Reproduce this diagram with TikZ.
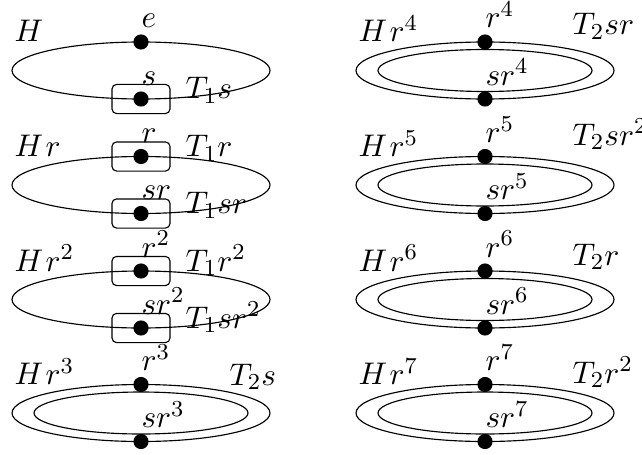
\documentclass[tikz,border=0pt]{standalone}
\begin{document}
\begin{tikzpicture}[x=0.35pt,y=0.35pt,line width=0.4pt,
  every node/.style={font=\fontsize{11}{13}\selectfont},
  dot/.style={circle,fill,inner sep=0pt,minimum size=5.3pt},
  cbox/.style={draw,rounded corners=1.6pt,minimum width=20.3pt,minimum height=10.2pt,inner sep=0pt},
  lab/.style={inner sep=0pt,anchor=base west}]
\useasboundingbox (0,0) rectangle (642,454);
% ---------- left column ----------
% row 1
\draw (141,383.5) ellipse [x radius=129, y radius=28.5];
\node[cbox] (b1b) at (141,355) {};
\node[dot] (d1t) at (141,412) {};
\node[dot] (d1b) at (141,355) {};
\node[lab] (l1H) at (14,412) {$H$};
\node[lab] (l1t) at (141,426) {$e$};
\node[lab] (l1b) at (141,369) {$s$};
\node[lab] (l1T) at (185,355) {$T_1s$};
% row 2
\draw (141,269) ellipse [x radius=129, y radius=28.5];
\node[cbox] (b2t) at (141,297.5) {};
\node[cbox] (b2b) at (141,240.5) {};
\node[dot] (d2t) at (141,297.5) {};
\node[dot] (d2b) at (141,240.5) {};
\node[lab] (l2H) at (14,297.5) {$H\mkern1.5mu r$};
\node[lab] (l2t) at (141,311.5) {$r$};
\node[lab] (l2b) at (141,254.5) {$sr$};
\node[lab] (l2T) at (185,297.5) {$T_1r$};
\node[lab] (l2U) at (185,240.5) {$T_1sr$};
% row 3
\draw (141,154.5) ellipse [x radius=129, y radius=28.5];
\node[cbox] (b3t) at (141,183) {};
\node[cbox] (b3b) at (141,126) {};
\node[dot] (d3t) at (141,183) {};
\node[dot] (d3b) at (141,126) {};
\node[lab] (l3H) at (14,183) {$H\mkern1.5mu r^2$};
\node[lab] (l3t) at (141,197) {$r^2$};
\node[lab] (l3b) at (141,140) {$sr^2$};
\node[lab] (l3T) at (185,183) {$T_1r^2$};
\node[lab] (l3U) at (185,126) {$T_1sr^2$};
% row 4
\draw (141,41) ellipse [x radius=129, y radius=28.5];
\draw (141,41) ellipse [x radius=107, y radius=21];
\node[dot] (d4t) at (141,69.5) {};
\node[dot] (d4b) at (141,12.5) {};
\node[lab] (l4H) at (14,69.5) {$H\mkern1.5mu r^3$};
\node[lab] (l4t) at (141,83.5) {$r^3$};
\node[lab] (l4b) at (141,26.5) {$sr^3$};
\node[lab] (l4T) at (229,69) {$T_2s$};
% ---------- right column ----------
% row 1
\draw (485,383.5) ellipse [x radius=129, y radius=28.5];
\draw (485,383.5) ellipse [x radius=107, y radius=21];
\node[dot] (e1t) at (485,412) {};
\node[dot] (e1b) at (485,355) {};
\node[lab] (m1H) at (358,412) {$H\mkern1.5mu r^4$};
\node[lab] (m1t) at (485,426) {$r^4$};
\node[lab] (m1b) at (485,369) {$sr^4$};
\node[lab] (m1T) at (572,419) {$T_2sr$};
% row 2
\draw (485,269) ellipse [x radius=129, y radius=28.5];
\draw (485,269) ellipse [x radius=107, y radius=21];
\node[dot] (e2t) at (485,297.5) {};
\node[dot] (e2b) at (485,240.5) {};
\node[lab] (m2H) at (358,297.5) {$H\mkern1.5mu r^5$};
\node[lab] (m2t) at (485,311.5) {$r^5$};
\node[lab] (m2b) at (485,254.5) {$sr^5$};
\node[lab] (m2T) at (572,309) {$T_2sr^2$};
% row 3
\draw (485,154.5) ellipse [x radius=129, y radius=28.5];
\draw (485,154.5) ellipse [x radius=107, y radius=21];
\node[dot] (e3t) at (485,183) {};
\node[dot] (e3b) at (485,126) {};
\node[lab] (m3H) at (358,183) {$H\mkern1.5mu r^6$};
\node[lab] (m3t) at (485,197) {$r^6$};
\node[lab] (m3b) at (485,140) {$sr^6$};
\node[lab] (m3T) at (572,189) {$T_2r$};
% row 4
\draw (485,41) ellipse [x radius=129, y radius=28.5];
\draw (485,41) ellipse [x radius=107, y radius=21];
\node[dot] (e4t) at (485,69.5) {};
\node[dot] (e4b) at (485,12.5) {};
\node[lab] (m4H) at (358,69.5) {$H\mkern1.5mu r^7$};
\node[lab] (m4t) at (485,83.5) {$r^7$};
\node[lab] (m4b) at (485,26.5) {$sr^7$};
\node[lab] (m4T) at (572,71) {$T_2r^2$};
\end{tikzpicture}
\end{document}
